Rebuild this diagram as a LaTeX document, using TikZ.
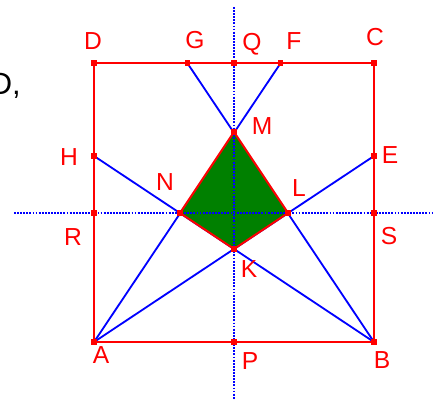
\documentclass[tikz,border=0pt]{standalone}
\usepackage{fontspec}
\setmainfont{Liberation Sans}
\usetikzlibrary{positioning}

\begin{document}
\begin{tikzpicture}[x=0.025cm, y=-0.025cm, font=\fontsize{17.5}{20}\selectfont,
    pt/.style={draw=none, fill=red, rectangle, minimum size=0.13cm, inner sep=0pt},
    lbl/.style={text=red, inner sep=0pt},
    side/.style={red, line width=1.4pt},
    ray/.style={blue, line width=1.3pt},
    axis/.style={blue, line width=1.2pt, dash pattern=on 1.3pt off 0.9pt}]
  \useasboundingbox (0,0) rectangle (434,400);
  % Square corners and side points
  \coordinate (A) at (94,342);
  \coordinate (B) at (374,342);
  \coordinate (C) at (374,63);
  \coordinate (D) at (94,63);
  \coordinate (G) at (187.3,63);
  \coordinate (Q) at (234,63);
  \coordinate (F) at (280.7,63);
  \coordinate (H) at (94,156);
  \coordinate (E) at (374,156);
  \coordinate (R) at (94,213);
  \coordinate (S) at (374,213);
  \coordinate (P) at (234,342);
  % Intersections
  \coordinate (M) at (234,132);
  \coordinate (N) at (180,213);
  \coordinate (L) at (288,213);
  \coordinate (K) at (234,249);
  % Axis ends
  \coordinate (vt) at (234,7);
  \coordinate (vb) at (234,400);
  \coordinate (hl) at (14,213);
  \coordinate (hr) at (434,213);
  % Lines from the corners
  \draw[ray] (A) -- (F);
  \draw[ray] (A) -- (E);
  \draw[ray] (B) -- (G);
  \draw[ray] (B) -- (H);
  % Quadrilateral
  \draw[side, fill={rgb,255:red,0;green,128;blue,0}, line join=round] (M) -- (L) -- (K) -- (N) -- cycle;
  % Square
  \draw[side] (A) -- (B) -- (C) -- (D) -- cycle;
  % Axes of symmetry
  \draw[axis] (vt) -- (vb);
  \draw[axis] (hl) -- (hr);
  % Points
  \foreach \p in {A,B,C,D,G,Q,F,H,E,R,S,P,M,N,L,K}
    \node[pt] (pt\p) at (\p) {};
  % Labels
  \node[lbl] (lA) at (101,355) {A};
  \node[lbl] (lB) at (382,360) {B};
  \node[lbl] (lC) at (375,37) {C};
  \node[lbl] (lD) at (93,41) {D};
  \node[lbl] (lG) at (195,40) {G};
  \node[lbl] (lQ) at (252,44) {Q};
  \node[lbl] (lF) at (294,41) {F};
  \node[lbl] (lH) at (69,157) {H};
  \node[lbl] (lE) at (390,155) {E};
  \node[lbl] (lR) at (73,237) {R};
  \node[lbl] (lS) at (389,236) {S};
  \node[lbl] (lP) at (250,361) {P};
  \node[lbl] (lM) at (262,126) {M};
  \node[lbl] (lN) at (165,182) {N};
  \node[lbl] (lL) at (299,188) {L};
  \node[lbl] (lK) at (249,269) {K};
  % Cut-off text at the left edge
  \node[inner sep=0pt, anchor=base east, font=\fontsize{22}{24}\selectfont] (txt) at (21,95) {D,};
\end{tikzpicture}
\end{document}
